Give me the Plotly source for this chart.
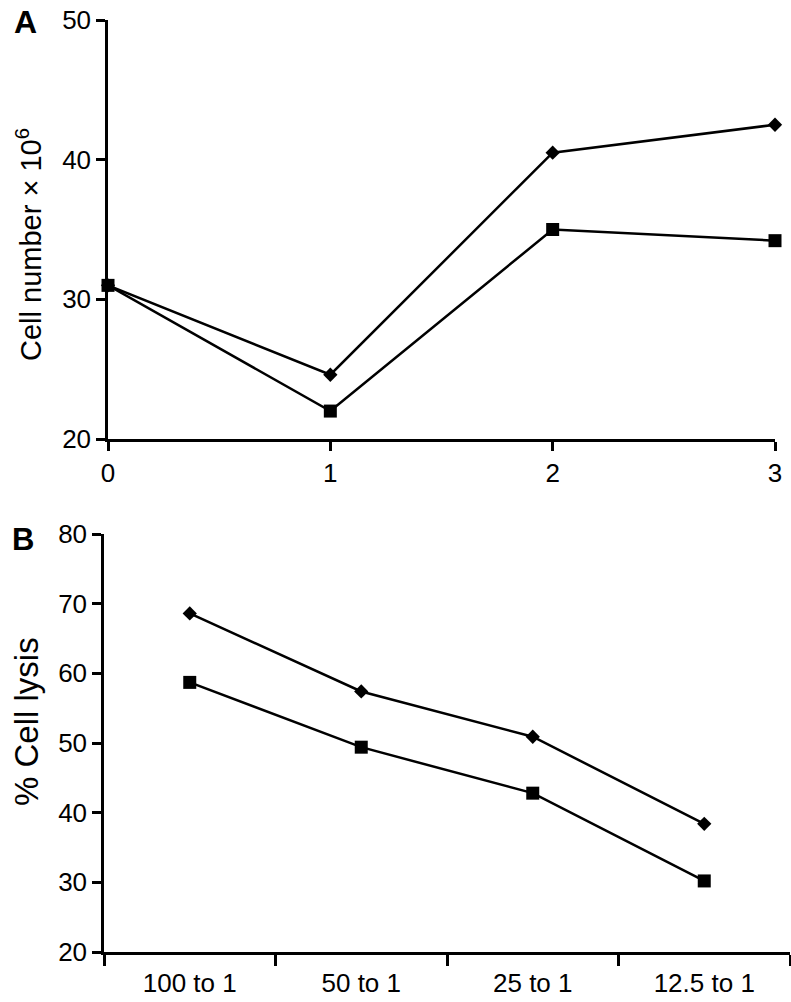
import plotly.graph_objects as go

# Panel A data
days = [0, 1, 2, 3]
a_diamond = [31.0, 24.6, 40.5, 42.5]
a_square = [31.0, 22.0, 35.0, 34.2]

# Panel B data
ratios = ["100 to 1", "50 to 1", "25 to 1", "12.5 to 1"]
b_diamond = [68.6, 57.4, 50.9, 38.4]
b_square = [58.7, 49.4, 42.8, 30.2]

W, H = 791, 1002
FONT = "Liberation Sans, Arial, Helvetica, sans-serif"

fig = go.Figure()

line = dict(color="black", width=2.5)
fig.add_trace(go.Scatter(x=days, y=a_diamond, mode="lines+markers", line=line,
                         marker=dict(symbol="diamond", size=11, color="black"),
                         xaxis="x", yaxis="y", cliponaxis=False, showlegend=False))
fig.add_trace(go.Scatter(x=days, y=a_square, mode="lines+markers", line=line,
                         marker=dict(symbol="square", size=13, color="black"),
                         xaxis="x", yaxis="y", cliponaxis=False, showlegend=False))
fig.add_trace(go.Scatter(x=ratios, y=b_diamond, mode="lines+markers", line=line,
                         marker=dict(symbol="diamond", size=11, color="black"),
                         xaxis="x2", yaxis="y2", cliponaxis=False, showlegend=False))
fig.add_trace(go.Scatter(x=ratios, y=b_square, mode="lines+markers", line=line,
                         marker=dict(symbol="square", size=13, color="black"),
                         xaxis="x2", yaxis="y2", cliponaxis=False, showlegend=False))

axcommon = dict(showline=True, linecolor="black", linewidth=2.5, ticks="outside",
                ticklen=9, tickwidth=2.5, tickcolor="black", showgrid=False,
                zeroline=False, automargin=False,
                tickfont=dict(family=FONT, size=26, color="black"))

def px_x(p):
    return p / W

def px_y(p):
    return 1 - p / H

def label(text, x, y, size, bold=False, angle=0):
    return dict(text=f"<b>{text}</b>" if bold else text, x=px_x(x), y=px_y(y),
                xref="paper", yref="paper", xanchor="center", yanchor="middle",
                textangle=angle, showarrow=False,
                font=dict(family=FONT, size=size, color="black"))

fig.update_layout(
    width=W, height=H,
    margin=dict(l=0, r=0, t=0, b=0, pad=0),
    paper_bgcolor="white", plot_bgcolor="white",
    hovermode=False,
    xaxis=dict(domain=[px_x(108), px_x(775)], range=[0, 3], tickvals=days,
               anchor="y", **axcommon),
    yaxis=dict(domain=[px_y(439), px_y(20)], range=[20, 50], tickvals=[20, 30, 40, 50],
               anchor="x", **axcommon),
    xaxis2=dict(domain=[px_x(104), px_x(790)], type="category", range=[-0.5, 3.5],
                tickson="boundaries", anchor="y2", ticklabelstandoff=6,
                **{**axcommon, "ticklen": 11}),
    yaxis2=dict(domain=[px_y(952), px_y(534)], range=[20, 80],
                tickvals=[20, 30, 40, 50, 60, 70, 80], anchor="x2", **axcommon),
    annotations=[
        label("A", 26, 22, 32, bold=True),
        label("B", 23, 539, 31, bold=True),
        label("Cell number × 10<sup>6</sup>", 29, 245, 29, angle=-90),
        label("% Cell lysis", 26, 722, 33, angle=-90),
    ],
)

fig.write_html("out.html", config={"displayModeBar": False},
               post_script="document.body.style.margin='0';document.body.style.overflow='hidden';")
